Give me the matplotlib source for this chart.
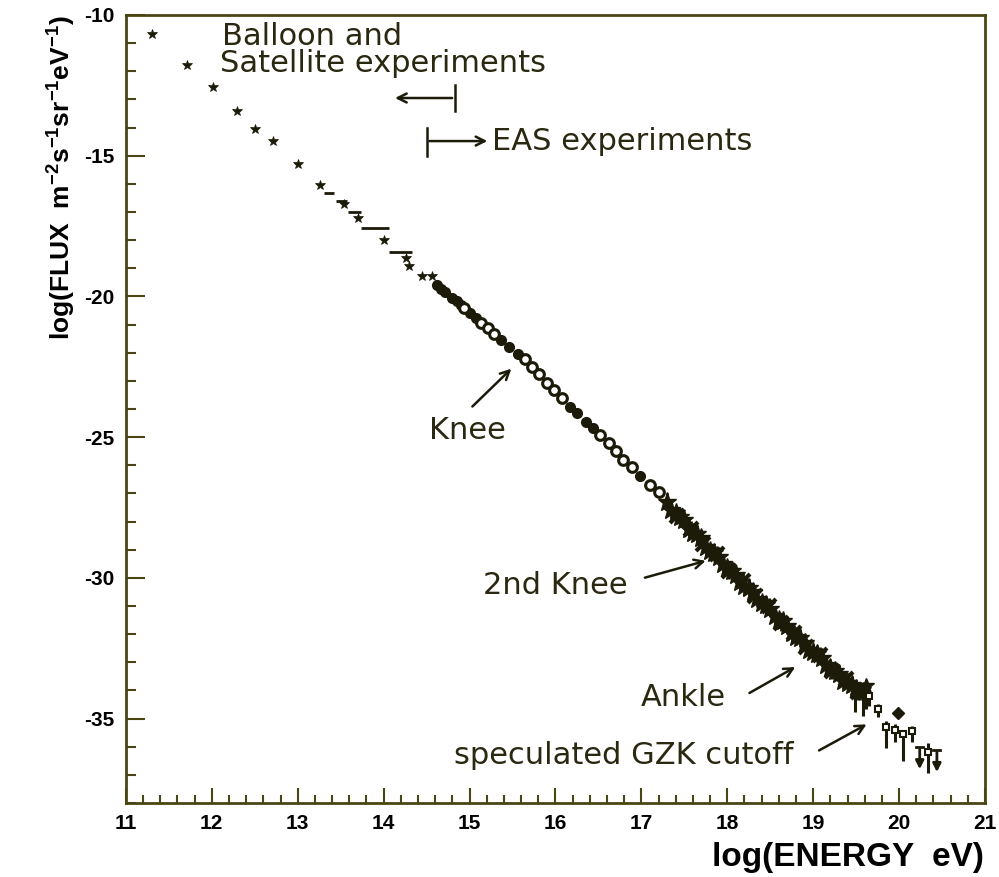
import numpy as np
import matplotlib
matplotlib.use('Agg')
import matplotlib.pyplot as plt
from matplotlib.ticker import MultipleLocator

# low-energy direct measurements (balloon / satellite)
direct_e = [11.30, 11.71, 12.01, 12.29, 12.50, 12.71, 13.00, 13.26, 13.54,
            13.70, 14.00, 14.26, 14.30, 14.45, 14.56]
direct_f = [-10.68, -11.78, -12.57, -13.40, -14.04, -14.47, -15.31, -16.04,
            -16.73, -17.20, -18.00, -18.65, -18.92, -19.26, -19.26]

# binned measurements shown only as energy ranges
bin_e = [13.365, 13.505, 13.66, 13.90, 14.195]
bin_w = [0.055, 0.065, 0.08, 0.16, 0.135]
bin_f = [-16.34, -16.61, -16.99, -17.56, -18.41]

# knee region, two air shower arrays
knee_filled_e = [14.62, 14.67, 14.72, 14.80, 14.85, 14.90, 15.01, 15.07, 15.37,
                 15.46, 15.56, 16.17, 16.25, 16.35, 16.44, 16.99]
knee_filled_f = [-19.60, -19.72, -19.85, -20.05, -20.18, -20.30, -20.60, -20.75,
                 -21.55, -21.81, -22.05, -23.92, -24.13, -24.45, -24.69, -26.38]
knee_open_e = [14.93, 15.13, 15.21, 15.28, 15.64, 15.73, 15.81, 15.90, 15.98,
               16.08, 16.52, 16.62, 16.70, 16.79, 16.89, 17.10, 17.20]
knee_open_f = [-20.42, -20.93, -21.12, -21.35, -22.24, -22.50, -22.77, -23.06,
               -23.33, -23.62, -24.93, -25.22, -25.50, -25.80, -26.05, -26.70, -26.96]

# second knee / ankle region, three data sets
eas_a_e = [17.30, 17.40, 17.50, 17.60, 17.70, 17.80, 17.90, 18.00, 18.10, 18.20,
           18.30, 18.40, 18.50, 18.60, 18.70, 18.80, 18.90, 19.00, 19.10, 19.20,
           19.30, 19.40, 19.50]
eas_a_f = [-27.30, -27.70, -27.95, -28.40, -28.60, -29.05, -29.25, -29.65, -29.90,
           -30.30, -30.50, -30.90, -31.10, -31.50, -31.70, -32.10, -32.30, -32.65,
           -32.85, -33.20, -33.40, -33.75, -33.95]
eas_b_e = [17.35, 17.45, 17.55, 17.65, 17.75, 17.85, 17.95, 18.05, 18.15, 18.25,
           18.35, 18.45, 18.55, 18.65, 18.75, 18.85, 18.95, 19.05, 19.15, 19.25,
           19.35, 19.45, 19.55]
eas_b_f = [-27.60, -27.85, -28.25, -28.45, -28.90, -29.10, -29.50, -29.75, -30.15,
           -30.35, -30.75, -30.95, -31.35, -31.55, -31.95, -32.15, -32.55, -32.70,
           -33.10, -33.30, -33.65, -33.80, -34.05]
eas_c_e = [17.42, 17.58, 17.72, 17.88, 18.02, 18.18, 18.32, 18.48, 18.62, 18.78,
           18.92, 19.08, 19.22, 19.38, 19.52]
eas_c_f = [-27.80, -28.25, -28.80, -29.15, -29.75, -30.10, -30.65, -31.00, -31.60,
           -31.95, -32.45, -32.75, -33.30, -33.60, -34.05]

# stars with long error bars just below the cutoff
cut_e = [19.49, 19.58, 19.62]
cut_f = [-33.90, -34.00, -33.85]
cut_lo = [0.85, 0.90, 0.80]
cut_hi = [0.20, 0.20, 0.20]

# highest energies
top_e = [19.65, 19.75, 19.85, 19.95, 20.05, 20.15, 20.34]
top_f = [-34.20, -34.65, -35.30, -35.40, -35.55, -35.45, -36.18]
top_lo = [0.35, 0.30, 0.75, 0.45, 0.95, 0.40, 0.75]
top_hi = [0.20, 0.15, 0.20, 0.20, 0.15, 0.20, 0.30]
limit_e = [20.24, 20.44]
limit_f = [-36.00, -36.10]
limit_len = [0.90, 0.90]
diamond_e = [19.99]
diamond_f = [-34.82]

ink = '#1c1a08'
axis_col = '#4a4614'

plt.rcParams['font.family'] = ['Liberation Sans', 'DejaVu Sans']
plt.rcParams['mathtext.default'] = 'regular'
plt.rcParams['axes.unicode_minus'] = False

fig = plt.figure(figsize=(9.99, 8.77), dpi=100)
ax = fig.add_axes([0.126, 0.0844, 0.86, 0.8985])

ax.plot(direct_e, direct_f, '*', color=ink, ms=7, mew=0.5)
ax.errorbar(bin_e, bin_f, xerr=bin_w, fmt='none', ecolor=ink, elinewidth=2, capsize=0)

ax.plot(knee_filled_e, knee_filled_f, 'o', color=ink, ms=7)
ax.plot(knee_open_e, knee_open_f, 'o', mfc='white', mec=ink, mew=2.2, ms=7)

ax.errorbar(eas_a_e, eas_a_f, yerr=0.3, fmt='*', color=ink, ms=14, elinewidth=2, capsize=0)
ax.errorbar(eas_b_e, eas_b_f, yerr=0.3, fmt='*', color=ink, ms=14, elinewidth=2, capsize=0)
ax.errorbar(eas_c_e, eas_c_f, yerr=0.28, fmt='x', color=ink, ms=10, mew=3, elinewidth=2, capsize=0)
ax.errorbar(cut_e, cut_f, yerr=[cut_lo, cut_hi], fmt='*', color=ink, ms=12,
            elinewidth=2.2, capsize=0)

ax.errorbar(top_e, top_f, yerr=[top_lo, top_hi], fmt='s', mfc='white', mec=ink,
            ecolor=ink, ms=4.5, mew=1.5, elinewidth=2.2, capsize=0)
ax.plot(diamond_e, diamond_f, 'D', color=ink, ms=6)
for e, f, l in zip(limit_e, limit_f, limit_len):
    ax.annotate('', xy=(e, f - l), xytext=(e, f),
                arrowprops=dict(arrowstyle='-|>', color=ink, lw=2, mutation_scale=12))
    ax.plot([e - 0.04, e + 0.04], [f, f], color=ink, lw=2)

# text annotations
tfont = dict(family=['DejaVu Sans'], fontsize=22, color='#2a2810')
ax.text(12.12, -10.78, 'Balloon and', ha='left', va='center', **tfont)
ax.text(12.10, -11.74, 'Satellite experiments', ha='left', va='center', **tfont)
arr = dict(arrowstyle='->', color=ink, lw=1.8, mutation_scale=16)
ax.annotate('', xy=(14.10, -12.95), xytext=(14.83, -12.95), arrowprops=arr)
ax.plot([14.83, 14.83], [-12.5, -13.4], color=ink, lw=1.8)
ax.annotate('', xy=(15.24, -14.48), xytext=(14.50, -14.48), arrowprops=arr)
ax.plot([14.50, 14.50], [-14.0, -15.0], color=ink, lw=1.8)
ax.text(15.26, -14.48, 'EAS experiments', ha='left', va='center', **tfont)

ax.text(14.98, -24.78, 'Knee', ha='center', va='center', **tfont)
ax.annotate('', xy=(15.51, -22.50), xytext=(15.01, -23.98), arrowprops=arr)
ax.text(16.0, -30.26, '2nd Knee', ha='center', va='center', **tfont)
ax.annotate('', xy=(17.78, -29.37), xytext=(17.01, -30.02), arrowprops=arr)
ax.text(17.49, -34.24, 'Ankle', ha='center', va='center', **tfont)
ax.annotate('', xy=(18.82, -33.12), xytext=(18.23, -34.14), arrowprops=arr)
ax.text(16.79, -36.30, 'speculated GZK cutoff', ha='center', va='center', **tfont)
ax.annotate('', xy=(19.65, -35.16), xytext=(19.04, -36.18), arrowprops=arr)

ax.set_xlim(11, 21)
ax.set_ylim(-38, -10)
ax.xaxis.set_major_locator(MultipleLocator(1))
ax.xaxis.set_minor_locator(MultipleLocator(0.2))
ax.yaxis.set_major_locator(MultipleLocator(5))
ax.yaxis.set_minor_locator(MultipleLocator(1))
ax.tick_params(which='both', direction='in', top=False, right=False,
               color=axis_col, width=1.5, labelsize=15, pad=8)
ax.tick_params(axis='x', which='major', length=11)
ax.tick_params(axis='x', which='minor', length=5.5)
ax.tick_params(axis='y', which='major', length=14)
ax.tick_params(axis='y', which='minor', length=7)
for lab in ax.get_xticklabels() + ax.get_yticklabels():
    lab.set_fontweight('bold')
for s in ax.spines.values():
    s.set_color(axis_col)
    s.set_linewidth(2)

fig.text(0.985, 0.022, 'log(ENERGY  eV)', ha='right', va='center', fontsize=24, fontweight='bold')
fig.text(0.062, 0.983, r'log(FLUX  m$^{-2}$s$^{-1}$sr$^{-1}$eV$^{-1}$)', rotation=90,
         ha='center', va='top', fontsize=19, fontweight='bold')

fig.savefig('out.png', dpi=100)
